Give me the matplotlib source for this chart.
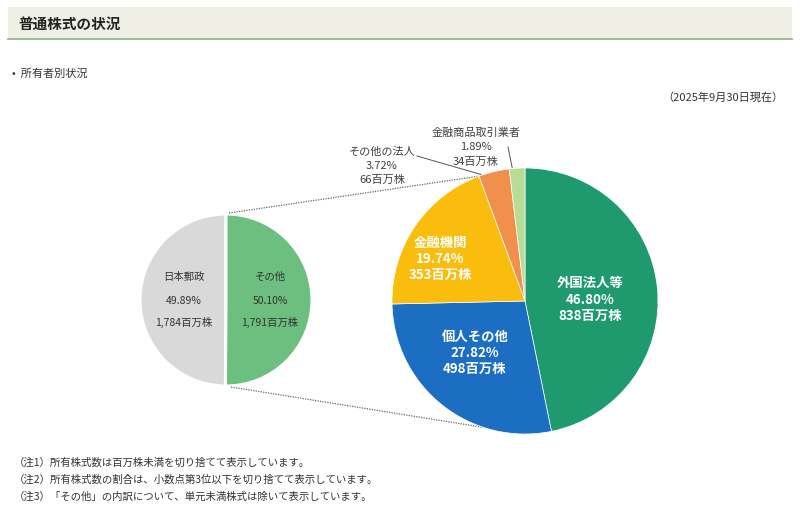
import numpy as np
import matplotlib
matplotlib.use("Agg")
import matplotlib.pyplot as plt
from matplotlib.patches import Rectangle

plt.rcParams['font.family'] = ['Noto Sans CJK JP', 'DejaVu Sans']

# 左の円グラフ（日本郵政 / その他）
left_names = ['日本郵政', 'その他']
left_pct = [49.89, 50.10]
left_shares = ['1,784', '1,791']
left_colors = ['#d9d9d9', '#6cbf7f']

# 右の円グラフ（その他の内訳）
right_names = ['外国法人等', '個人その他', '金融機関', 'その他の法人', '金融商品取引業者']
right_pct = [46.80, 27.82, 19.74, 3.72, 1.89]
right_shares = ['838', '498', '353', '66', '34']
right_colors = ['#1e9a6e', '#1b6ec2', '#fbbd0d', '#f0904c', '#b7dc95']

notes = [
    '（注1）所有株式数は百万株未満を切り捨てて表示しています。',
    '（注2）所有株式数の割合は、小数点第3位以下を切り捨てて表示しています。',
    '（注3）「その他」の内訳について、単元未満株式は除いて表示しています。',
]

W, H = 800, 506
fig = plt.figure(figsize=(W / 100, H / 100), dpi=100)
ax = fig.add_axes([0, 0, 1, 1])


def Y(y):
    # 画像のピクセル座標 → データ座標
    return H - y


# ヘッダー
ax.add_patch(Rectangle((8, Y(40)), 784, 32, facecolor='#f0efe6', edgecolor='none', zorder=0))
ax.plot([8, 792], [Y(40), Y(40)], color='#8fb07f', lw=1.2)
ax.text(18, Y(24), '普通株式の状況', fontsize=10.5, fontweight='bold', color='#222222', va='center')
ax.text(12, Y(74), '•  所有者別状況', fontsize=8, color='#333333', va='center')
ax.text(783, Y(98), '（2025年9月30日現在）', fontsize=8, color='#333333', va='center', ha='right')

# 左の円
lc = (226, Y(301))
lr = 86
lw_, _ = ax.pie(left_pct, colors=left_colors, startangle=90, counterclock=True,
                center=lc, radius=lr, frame=True,
                wedgeprops=dict(edgecolor='white', linewidth=2.2))
for i, x in enumerate([184, 270]):
    ax.text(x, Y(277), left_names[i], ha='center', va='center', fontsize=7.5, color='#333333')
    ax.text(x, Y(301), f'{left_pct[i]:.2f}%', ha='center', va='center', fontsize=7.5, color='#333333')
    ax.text(x, Y(322), f'{left_shares[i]}百万株', ha='center', va='center', fontsize=7.5, color='#333333')

# 右の円
rc = (525, Y(302))
rr = 133
rw, _ = ax.pie(right_pct, colors=right_colors, startangle=90, counterclock=False,
               center=rc, radius=rr, frame=True,
               wedgeprops=dict(edgecolor='white', linewidth=0.5))
for w in rw:
    w.set_zorder(3)


def edge_pt(c, r, ang):
    a = np.deg2rad(ang)
    return c[0] + r * np.cos(a), c[1] + r * np.sin(a)


# 金融機関とその他の法人の境界の角度
ang_fin = 90 + 360 * sum(right_pct[3:]) / 100

# 点線（左の「その他」から右の円へ）
top_l = edge_pt(lc, lr, 90)
bot_l = edge_pt(lc, lr, -90)
top_r = edge_pt(rc, rr, ang_fin)
bot_r = edge_pt(rc, rr, -90)
ax.plot([top_l[0] + 3, top_r[0]], [top_l[1] + 1, top_r[1]], ls=(0, (1, 1)), color='#666666', lw=0.9, zorder=1)
ax.plot([bot_l[0] + 5, bot_r[0]], [bot_l[1] - 1, bot_r[1]], ls=(0, (1, 1)), color='#666666', lw=0.9, zorder=1)

# 円の中のラベル
inside = {0: (590, [283, 300, 316]), 1: (475, [337, 353, 369]), 2: (440, [243, 259, 275])}
for i, (x, ys) in inside.items():
    lines = [right_names[i], f'{right_pct[i]:.2f}%', f'{right_shares[i]}百万株']
    for t, y in zip(lines, ys):
        ax.text(x, Y(y), t, ha='center', va='center', fontsize=9.6, color='white',
                fontweight='bold', zorder=5)

# 外側のラベル（引き出し線の始点と、円周上の終点の角度）
outside = {3: (382, [152, 166, 180], (417, 157), ang_fin - 1), 4: (476, [133, 147, 162], (508, 148), 95.5)}
for i, (x, ys, (lx, ly), ang) in outside.items():
    lines = [right_names[i], f'{right_pct[i]:.2f}%', f'{right_shares[i]}百万株']
    for t, y in zip(lines, ys):
        ax.text(x, Y(y), t, ha='center', va='center', fontsize=8, color='#404040', zorder=5)
    px, py = edge_pt(rc, rr + 1, ang)
    ax.plot([lx, px], [Y(ly), py], color='#555555', lw=0.7, zorder=4)

# 注記
for k, t in enumerate(notes):
    ax.text(14, Y(463 + 17 * k), t, fontsize=7.5, color='#333333', va='center')

ax.set_xlim(0, W)
ax.set_ylim(0, H)
ax.set_aspect('equal')
ax.axis('off')
fig.savefig('out.png', dpi=100)
